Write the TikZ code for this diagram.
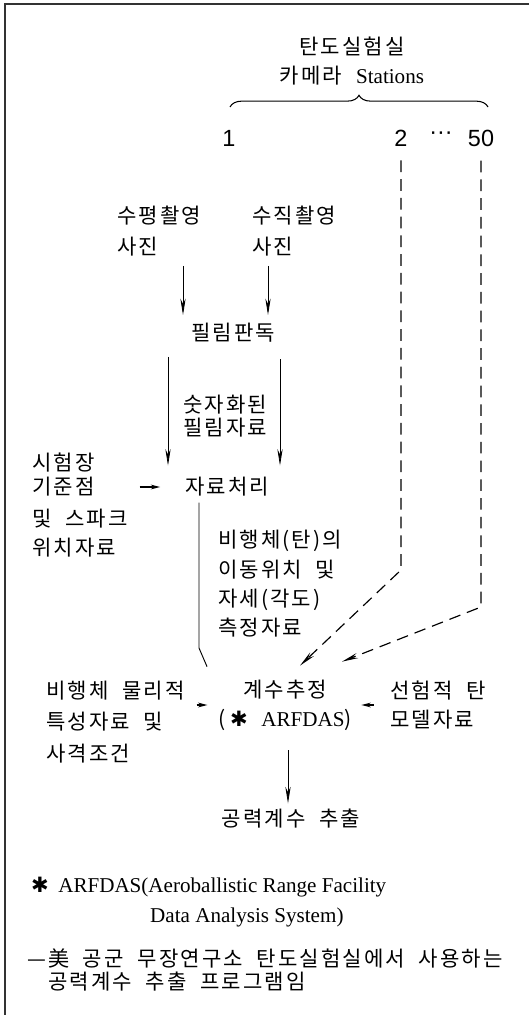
\documentclass[tikz,border=0pt]{standalone}
\usepackage{fontspec}
\setmainfont{Noto Sans CJK KR}[LetterSpace=10,WordSpace=2]
\newfontfamily\lat{Liberation Serif}
\newfontfamily\num{Liberation Sans}
\newfontfamily\sym{DejaVu Sans}
\usetikzlibrary{arrows.meta,calc,decorations.pathreplacing}

\begin{document}
\begin{tikzpicture}[x=0.03cm,y=-0.03cm,inner sep=0pt,font=\fontsize{18}{26}\selectfont]
\tikzstyle{txt}=[align=left,anchor=west]
\tikzstyle{stn}=[font=\num\fontsize{20}{24}\selectfont]
\tikzstyle{connect}=[-{Stealth[length=14pt,width=4.5pt]},line width=0.7pt]
\tikzstyle{short}=[-{Stealth[length=8pt,width=4pt]},line width=1.2pt]
\tikzstyle{camline}=[dash pattern=on 10pt off 6pt,line width=1pt,shorten <=12pt,-{Stealth[length=14pt,width=4.5pt]}]
\tikzstyle{frame}=[line width=1.6pt,black!80]
\tikzset{lsp/.style={font=\fontsize{18}{#1}\selectfont}}
\useasboundingbox (0,0) rectangle (529,1015);
\draw[frame] (529,4) -- (5,4) -- (5,1015);
% camera stations
\node[lsp=24pt,align=center] (title) at (352,61) {탄도실험실\\카메라 {\lat Stations}};
\draw[decorate,decoration={brace,amplitude=10pt},line width=0.9pt] (230,107) -- (488,107);
\node[stn] (s1) at (229,138) {1};
\node[stn] (s2) at (401,138) {2};
\node[stn] (sdots) at (441,136) {···};
\node[stn] (s50) at (481,138) {50};
% photos and film
\node[txt,lsp=27pt] (hs) at (117,231) {수평촬영\\사진};
\node[txt,lsp=27pt] (vs) at (252,231) {수직촬영\\사진};
\node (pd) at (233,333) {필림판독};
\node[txt,lsp=19.5pt] (nd) at (183,416) {숫자화된\\필림자료};
\node (dp) at (227,487) {자료처리};
\node[txt,lsp=21pt] (sh) at (32,505) {시험장\\기준점\\[6pt]및 스파크\\[4pt]위치자료};
\node[txt,lsp=25pt] (ms) at (218,584) {비행체(탄)의\\이동위치 및\\자세(각도)\\측정자료};
% estimation
\node[lsp=24.5pt,align=center] (ce) at (285,705) {계수추정\\(\hspace{4pt}{\sym ✱} {\lat ARFDAS})};
\node[txt,lsp=27pt] (pp) at (46,722) {비행체 물리적\\특성자료 및\\사격조건};
\node[txt,lsp=25.5pt] (pm) at (390,705) {선험적 탄\\모델자료};
\node (ac) at (291,819) {공력계수 추출};
% footnote
\node[anchor=west] (fn1) at (31,887) {{\sym ✱}\hspace{8pt}{\lat ARFDAS(Aeroballistic Range Facility}};
\node[anchor=west] (fn2) at (150,917) {{\lat Data Analysis System)}};
\node[anchor=west] (fn3) at (27,958) {—美 공군 무장연구소 탄도실험실에서 사용하는};
\node[anchor=west] (fn4) at (48,982) {공력계수 추출 프로그램임};
% connectors
\draw[connect,shorten <=8pt,shorten >=7pt] (hs.south -| 183,0) -- (pd.north -| 183,0);
\draw[connect,shorten <=8pt,shorten >=7pt] (vs.south -| 268,0) -- (pd.north -| 268,0);
\draw[connect,shorten <=12pt,shorten >=10pt] (pd.south -| 168,0) -- (dp.north -| 168,0);
\draw[connect,shorten <=14pt,shorten >=10pt] (pd.south -| 280,0) -- (dp.north -| 280,0);
\draw[short,shorten <=10pt,shorten >=21pt] (sh.east |- dp.west) -- (dp.west);
\draw[line width=0.8pt,shorten <=5pt] (dp.south -| 199,0) -- (199,648) -- ($(ce.north west)+(-11,-13)$);
\draw[camline] (s2.south) -- (401,570) -- ($(ce.north)+(15,-14)$);
\draw[camline] (s50.south) -- (481,607) -- ($(ce.north)+(57,-18)$);
\draw[short,shorten <=10pt,shorten >=9pt] (pp.east |- ce.west) -- (ce.west);
\draw[short,shorten <=14pt,shorten >=8pt] (pm.west) -- (ce.east |- pm.west);
\draw[connect,shorten <=17pt,shorten >=5pt] (ce.south -| 288,0) -- (ac.north -| 288,0);
\end{tikzpicture}
\end{document}
